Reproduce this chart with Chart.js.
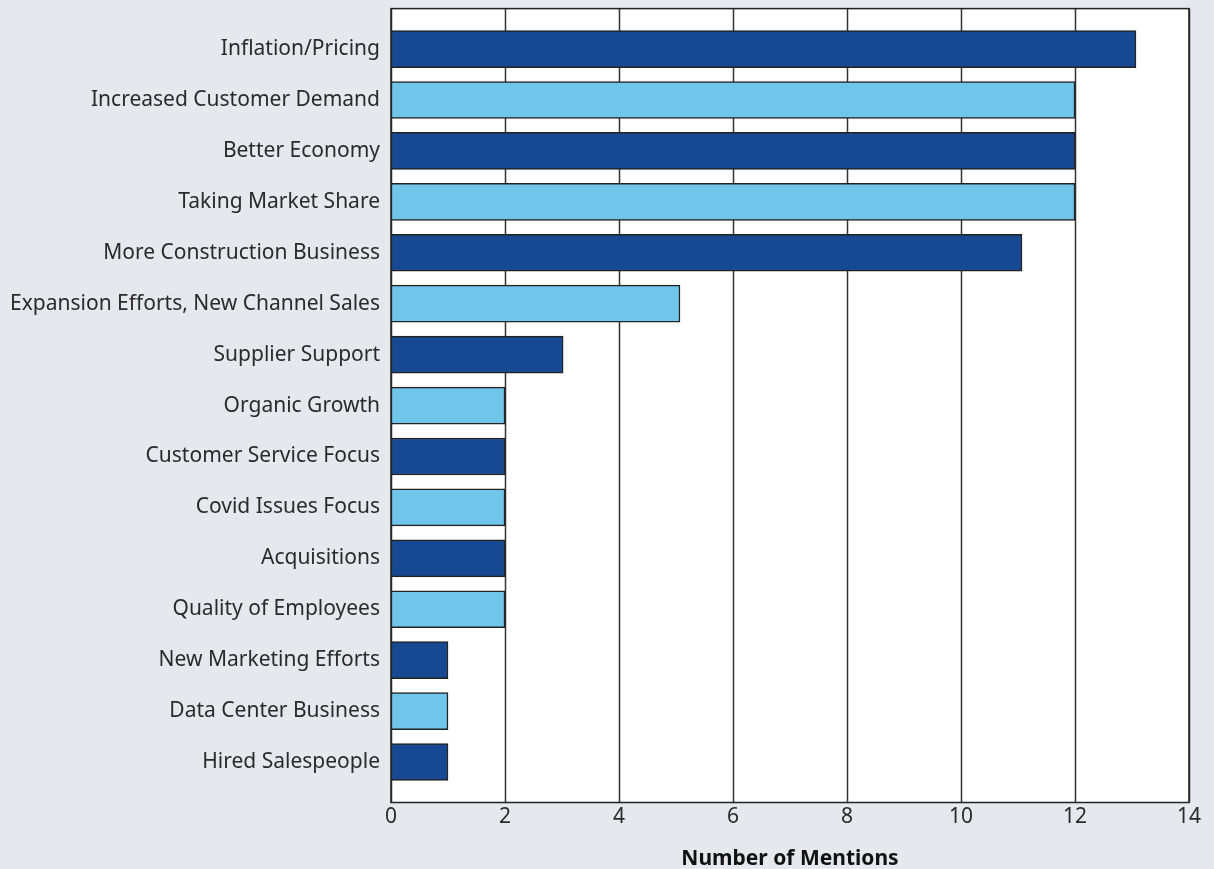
<!DOCTYPE html>
<html>
<head>
<meta charset="utf-8">
<script src="https://cdn.jsdelivr.net/npm/chart.js@4/dist/chart.umd.min.js"></script>
<style>
  html, body { margin: 0; padding: 0; background: #e5e8ed; }
  #wrap { width: 1214px; height: 869px; }
</style>
</head>
<body>
<div id="wrap"><canvas id="mentions"></canvas></div>
<script>
// Data

let labelReasons = [
	"Inflation/Pricing",
	"Increased Customer Demand",
	"Better Economy",
	"Taking Market Share",
	"More Construction Business",
	"Expansion Efforts, New Channel Sales",
	"Supplier Support",
	"Organic Growth",
	"Customer Service Focus",
	"Covid Issues Focus",
	"Acquisitions",
	"Quality of Employees",
	"New Marketing Efforts",
	"Data Center Business",
	"Hired Salespeople"
];

let dataMentions = [13.07, 12, 12, 12, 11.07, 5.07, 3.02, 2, 2, 2, 2, 2, 1, 1, 1];

let xTicks = [0, 2, 4, 6, 8, 10, 12, 14];

let titleX = "Number of Mentions";

const darkBlue = "#164991";
const lightBlue = "#6fc5ea";
const textColor = "#2a2a2a";

// alternate dark / light
let barColors = labelReasons.map((l, i) => (i % 2 === 0 ? darkBlue : lightBlue));

// white plot box with grid, a bit taller than the bar area
const plotBox = {
	id: "plotBox",
	beforeDatasetsDraw(chart) {
		const { ctx, chartArea } = chart;
		const x = chart.scales.x;
		const top = chartArea.top - 15;
		const bottom = chartArea.bottom + 15;
		ctx.save();
		ctx.fillStyle = "#fff";
		ctx.fillRect(chartArea.left, top, chartArea.right - chartArea.left, bottom - top);
		ctx.strokeStyle = "#333";
		ctx.lineWidth = 1.5;
		xTicks.forEach(v => {
			const px = Math.round(x.getPixelForValue(v)) + 0.5;
			ctx.beginPath();
			ctx.moveTo(px, top);
			ctx.lineTo(px, bottom);
			ctx.stroke();
		});
		ctx.strokeStyle = "#222";
		ctx.strokeRect(chartArea.left, top, chartArea.right - chartArea.left, bottom - top);
		ctx.restore();
	}
};

let ctx = document.getElementById("mentions").getContext("2d");

let mentionsChart = new Chart(ctx, {
	type: "bar",
	data: {
		labels: labelReasons,
		datasets: [
			{
				data: dataMentions,
				backgroundColor: barColors,
				borderColor: "#222",
				borderWidth: 1.5,
				borderSkipped: false,
				barThickness: 37
			}
		]
	},
	options: {
		indexAxis: "y",
		responsive: true,
		maintainAspectRatio: false,
		animation: false,
		layout: {
			padding: { top: 20, right: 25, bottom: 0, left: 0 }
		},
		plugins: {
			legend: { display: false },
			tooltip: { enabled: false }
		},
		scales: {
			x: {
				type: "linear",
				min: 0,
				max: 14,
				afterBuildTicks: scale => {
					scale.ticks = xTicks.map(v => ({ value: v }));
				},
				afterFit: scale => {
					scale.height = 81.5;
					scale.paddingLeft = 0;
					scale.paddingRight = 0;
				},
				grid: { display: false, drawTicks: false },
				border: { display: false },
				ticks: {
					color: textColor,
					padding: 17,
					font: { family: "Noto Sans", size: 21 }
				},
				title: {
					display: true,
					text: titleX,
					color: "#111",
					padding: { top: 0, bottom: -3 },
					font: { family: "Noto Sans", size: 21, weight: "bold" }
				}
			},
			y: {
				afterFit: scale => {
					scale.width = 391;
				},
				grid: { display: false, drawTicks: false },
				border: { display: false },
				ticks: {
					color: textColor,
					padding: 11,
					font: { family: "Noto Sans", size: 21 }
				}
			}
		}
	},
	plugins: [plotBox]
});
</script>
</body>
</html>
